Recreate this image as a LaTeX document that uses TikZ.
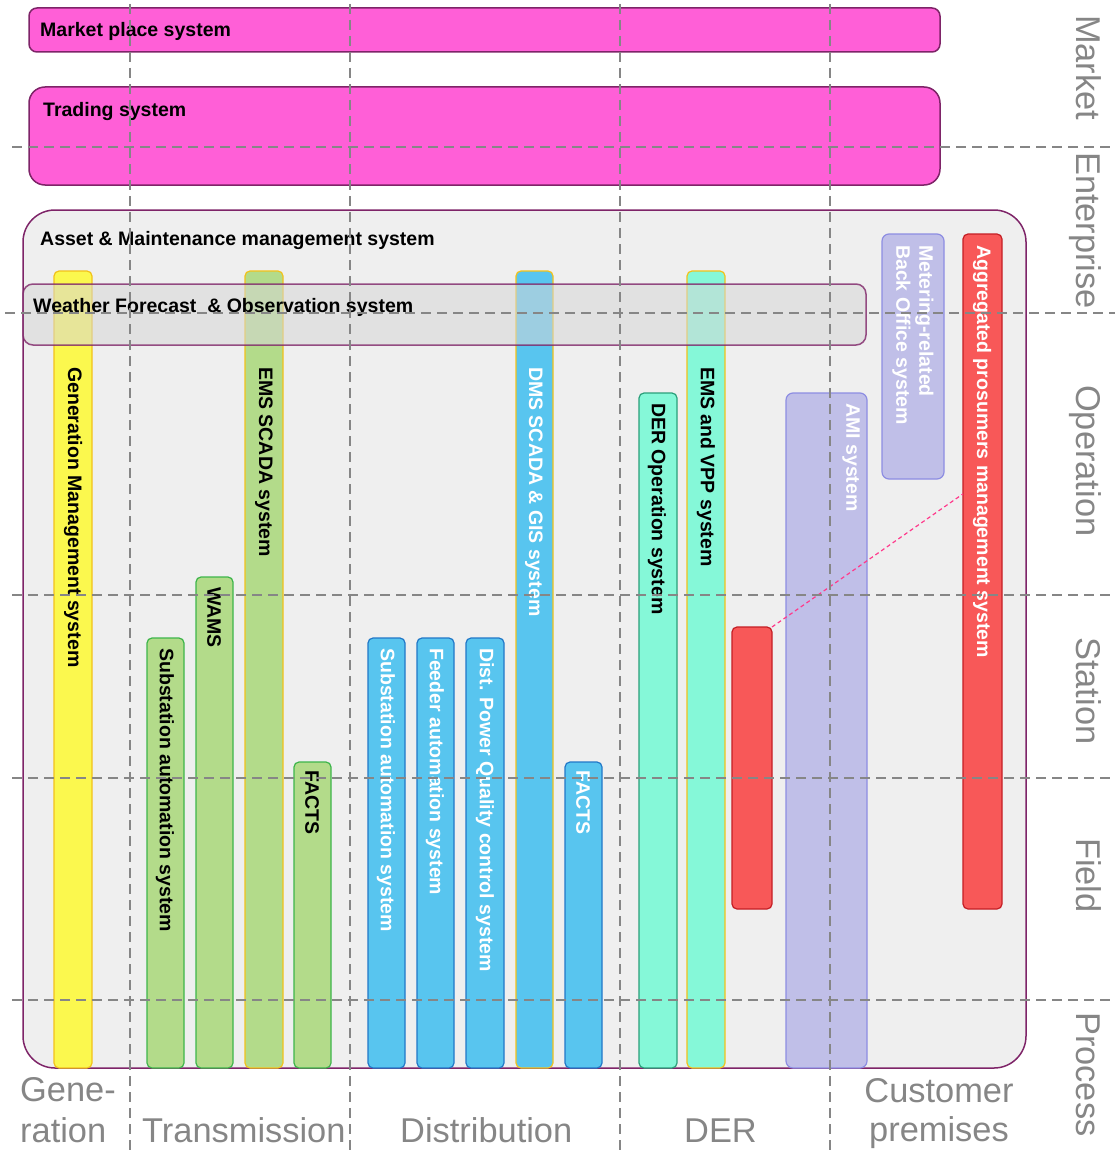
\documentclass[tikz,border=0pt]{standalone}
\usepackage{fontspec}
\setmainfont{Liberation Sans}
\usetikzlibrary{calc}

\definecolor{mktpink}{HTML}{FF5FD7}
\definecolor{boxline}{HTML}{7E2468}
\definecolor{assetgray}{HTML}{EFEFEF}
\definecolor{wxgray}{HTML}{D7D7D7}
\definecolor{genyellow}{HTML}{FBF84E}
\definecolor{goldline}{HTML}{F2C21B}
\definecolor{trgreen}{HTML}{B3DB8A}
\definecolor{trline}{HTML}{3DB54A}
\definecolor{dsblue}{HTML}{58C5EF}
\definecolor{dsline}{HTML}{2178C8}
\definecolor{deraqua}{HTML}{85F8D8}
\definecolor{derline}{HTML}{2A9F7A}
\definecolor{prored}{HTML}{F85858}
\definecolor{proline}{HTML}{C41E24}
\definecolor{amilav}{HTML}{C0BFE8}
\definecolor{amiline}{HTML}{8D8DE2}
\definecolor{linkpink}{HTML}{FF3A8C}
\definecolor{layergray}{HTML}{868686}

\tikzset{
  sysbox/.style={draw=boxline, line width=1.5pt, inner sep=0pt, outer sep=0pt, anchor=north west},
  sysbar/.style={line width=1.2pt, rounded corners=5pt, inner sep=0pt, outer sep=0pt, anchor=north west},
  genbar/.style={sysbar, fill=genyellow, draw=goldline},
  trbar/.style={sysbar, fill=trgreen, draw=trline},
  trtall/.style={sysbar, fill=trgreen, draw=goldline},
  dsbar/.style={sysbar, fill=dsblue, draw=dsline},
  dstall/.style={sysbar, fill=dsblue, draw=goldline},
  derbar/.style={sysbar, fill=deraqua, draw=derline},
  dertall/.style={sysbar, fill=deraqua, draw=goldline},
  probar/.style={sysbar, fill=prored, draw=proline},
  amibar/.style={sysbar, fill=amilav, draw=amiline, rounded corners=7pt},
  bartext/.style={rotate=-90, anchor=west, inner sep=0pt, align=left, font=\fontsize{19.5}{23}\selectfont\bfseries},
  boxtitle/.style={anchor=base west, inner sep=0pt, font=\fontsize{19.5}{23}\selectfont\bfseries},
  layerlabel/.style={text=layergray, inner sep=0pt, anchor=base west, font=\fontsize{34.4}{41}\selectfont},
  gridline/.style={draw=layergray, line width=1.3pt, dash pattern=on 10pt off 6pt},
  prolink/.style={draw=linkpink, line width=1.2pt, dash pattern=on 4pt off 3pt},
}

\begin{document}
\begin{tikzpicture}[x=1pt, y=-1pt]
  \useasboundingbox (0,0) rectangle (1115,1153);

  % market and enterprise boxes
  \node[sysbox, fill=mktpink, rounded corners=8pt, minimum width=911pt, minimum height=44pt] (market) at (29,8) {};
  \node[boxtitle] (market-txt) at (40,37) {Market place system};
  \node[sysbox, fill=mktpink, rounded corners=16pt, minimum width=911pt, minimum height=98pt] (trading) at (29,87) {};
  \node[boxtitle] (trading-txt) at (43,117) {Trading system};
  \node[sysbox, fill=assetgray, rounded corners=32pt, minimum width=1003pt, minimum height=858pt] (asset) at (23,210) {};
  \node[boxtitle] (asset-txt) at (40,245) {Asset \& Maintenance management system};

  % systems per domain
  \foreach \nm/\xa/\ya/\xb/\yb/\sty/\tx/\ty/\tc/\txt in {
    gms/54/271/92/1068/genbar/73/367/black/{Generation Management system},
    tsas/147/638/184/1068/trbar/165/648/black/{Substation automation system},
    wams/196/577/233/1068/trbar/214/587/black/{WAMS},
    ems/245/271/283/1068/trtall/264/367/black/{EMS SCADA system},
    tfacts/294/762/331/1068/trbar/312/770/black/{FACTS},
    dsas/368/638/405/1068/dsbar/386/648/white/{Substation automation system},
    dfa/417/638/454/1068/dsbar/435/648/white/{Feeder automation system},
    dpq/466/638/504/1068/dsbar/485/648/white/{Dist. Power Quality control system},
    dms/516/271/553/1068/dstall/534/367/white/{DMS SCADA \& GIS system},
    dfacts/565/762/602/1068/dsbar/583/770/white/{FACTS},
    derop/639/393/677/1068/derbar/657/403/black/{DER Operation system},
    vpp/687/271/725/1068/dertall/706/367/black/{EMS and VPP system},
    derred/732/627/772/909/probar/752/640/white/{},
    ami/786/393/867/1068/amibar/851/403/white/{AMI system},
    mdms/882/234/944/479/amibar/913/245/white/{Metering-related\\Back Office system},
    agg/963/234/1002/909/probar/982/245/white/{Aggregated prosumers management system}%
  }{
    \node[\sty, minimum width=\xb pt-\xa pt, minimum height=\yb pt-\ya pt] (\nm) at (\xa,\ya) {};
    \node[bartext, text=\tc] (\nm-txt) at (\tx,\ty) {\txt};
  }

  \node[sysbox, fill=wxgray, fill opacity=0.55, draw opacity=0.8, rounded corners=10pt, minimum width=843pt, minimum height=61pt] (weather) at (23,284) {};
  \node[boxtitle] (weather-txt) at (33,312) {Weather Forecast\ \ \& Observation system};

  \draw[prolink] (derred.north east) -- ($(agg.north west)!0.385!(agg.south west)$);

  % zones and domains
  \foreach \x in {130,350,620,830}{
    \draw[gridline] (\x,4) -- (\x,1150);
  }
  \foreach \y/\xs in {147/12,313/5,595/12,778/12,1000/12}{
    \draw[gridline] (\xs,\y) -- (1115,\y);
  }

  \foreach \nm/\y/\txt in {market/15/Market, enterprise/152/Enterprise, operation/385/Operation,
    station/637/Station, field/838/Field, process/1012/Process}{
    \node[layerlabel, rotate=-90] (zone-\nm) at (1076,\y) {\txt};
  }

  \node[layerlabel] (dom-gen1) at (20,1101) {Gene-};
  \node[layerlabel] (dom-gen2) at (20,1142) {ration};
  \node[layerlabel] (dom-trans) at (142,1142) {Transmission};
  \node[layerlabel] (dom-dist) at (400,1142) {Distribution};
  \node[layerlabel] (dom-der) at (684,1142) {DER};
  \node[layerlabel, anchor=base] (dom-cust1) at (939,1102) {Customer};
  \node[layerlabel, anchor=base] (dom-cust2) at (939,1141) {premises};
\end{tikzpicture}
\end{document}
